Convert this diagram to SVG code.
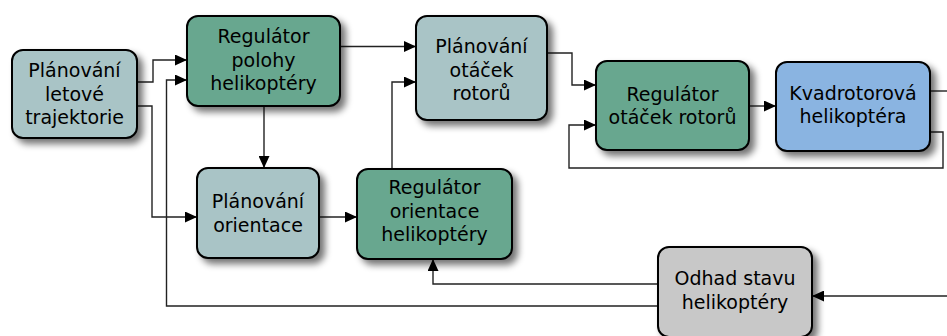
<svg xmlns="http://www.w3.org/2000/svg" width="947" height="336" viewBox="0 0 947 336">
<defs>
<filter id="sh" x="-20%" y="-20%" width="150%" height="150%">
<feGaussianBlur in="SourceAlpha" stdDeviation="3.5"/>
<feOffset dx="5" dy="5" result="b"/>
<feComponentTransfer><feFuncA type="linear" slope="0.55"/></feComponentTransfer>
<feMerge><feMergeNode/><feMergeNode in="SourceGraphic"/></feMerge>
</filter>
<marker id="ar" markerUnits="userSpaceOnUse" markerWidth="12" markerHeight="11" refX="12" refY="5.5" orient="auto">
<path d="M0,0 L12,5.5 L0,11 z" fill="#000"/>
</marker>
</defs>
<style>
.n rect{stroke:#000;stroke-width:2;filter:url(#sh)}
.plan rect{fill:#a9c4c6}
.reg rect{fill:#67a78f}
.kv rect{fill:#8ab4e1}
.od rect{fill:#c8c8c8}
text{font-family:"DejaVu Sans",sans-serif;font-size:19px;fill:#000;text-anchor:middle}
.c path{fill:none;stroke:#222;stroke-width:1.4}
.c path.a{marker-end:url(#ar)}
</style>
<rect width="947" height="336" fill="#fff"/>
<g class="c">
<path class="a" d="M137,82 H153 V60 H187"/>
<path class="a" d="M137,106 H152 V217 H197"/>
<path class="a" d="M658,284 H433 V259"/>
<path class="a" d="M658,306 H166.5 V80 H187"/>
<path class="a" d="M264,106 V168"/>
<path class="a" d="M340,46.5 H416"/>
<path class="a" d="M392,169 V82 H416"/>
<path class="a" d="M547,53 H572 V85 H596"/>
<path class="a" d="M319,217 H357"/>
<path class="a" d="M749,106 H776"/>
<path d="M930,91 H947"/>
<path class="a" d="M930,132 H943 V168 H569 V125 H596"/>
<path class="a" d="M947,296 H812"/>
</g>
<g id="n1" class="n plan"><rect x="12" y="50" width="125" height="88" rx="11"/>
<text x="74.5" y="77">Plánování</text><text x="74.5" y="100.5">letové</text><text x="74.5" y="124">trajektorie</text></g>
<g id="n2" class="n reg"><rect x="187" y="16" width="153" height="90" rx="11"/>
<text x="263.5" y="43">Regulátor</text><text x="263.5" y="66.5">polohy</text><text x="263.5" y="90">helikoptéry</text></g>
<g id="n3" class="n plan"><rect x="416" y="16" width="131" height="104" rx="11"/>
<text x="481.5" y="53">Plánování</text><text x="481.5" y="76.5">otáček</text><text x="481.5" y="100">rotorů</text></g>
<g id="n4" class="n reg"><rect x="596" y="61" width="153" height="89" rx="11"/>
<text x="672.5" y="101">Regulátor</text><text x="672.5" y="124">otáček rotorů</text></g>
<g id="n5" class="n kv"><rect x="776" y="62" width="154" height="89" rx="11"/>
<text x="853" y="99.5">Kvadrotorová</text><text x="853" y="123">helikoptéra</text></g>
<g id="n6" class="n plan"><rect x="197" y="168" width="122" height="90" rx="11"/>
<text x="258" y="208">Plánování</text><text x="258" y="231.5">orientace</text></g>
<g id="n7" class="n reg"><rect x="357" y="169" width="155" height="90" rx="11"/>
<text x="434.5" y="194">Regulátor</text><text x="434.5" y="217.5">orientace</text><text x="434.5" y="241">helikoptéry</text></g>
<g id="n8" class="n od"><rect x="658" y="247" width="154" height="90" rx="11"/>
<text x="735" y="285">Odhad stavu</text><text x="735" y="308.5">helikoptéry</text></g>
</svg>
